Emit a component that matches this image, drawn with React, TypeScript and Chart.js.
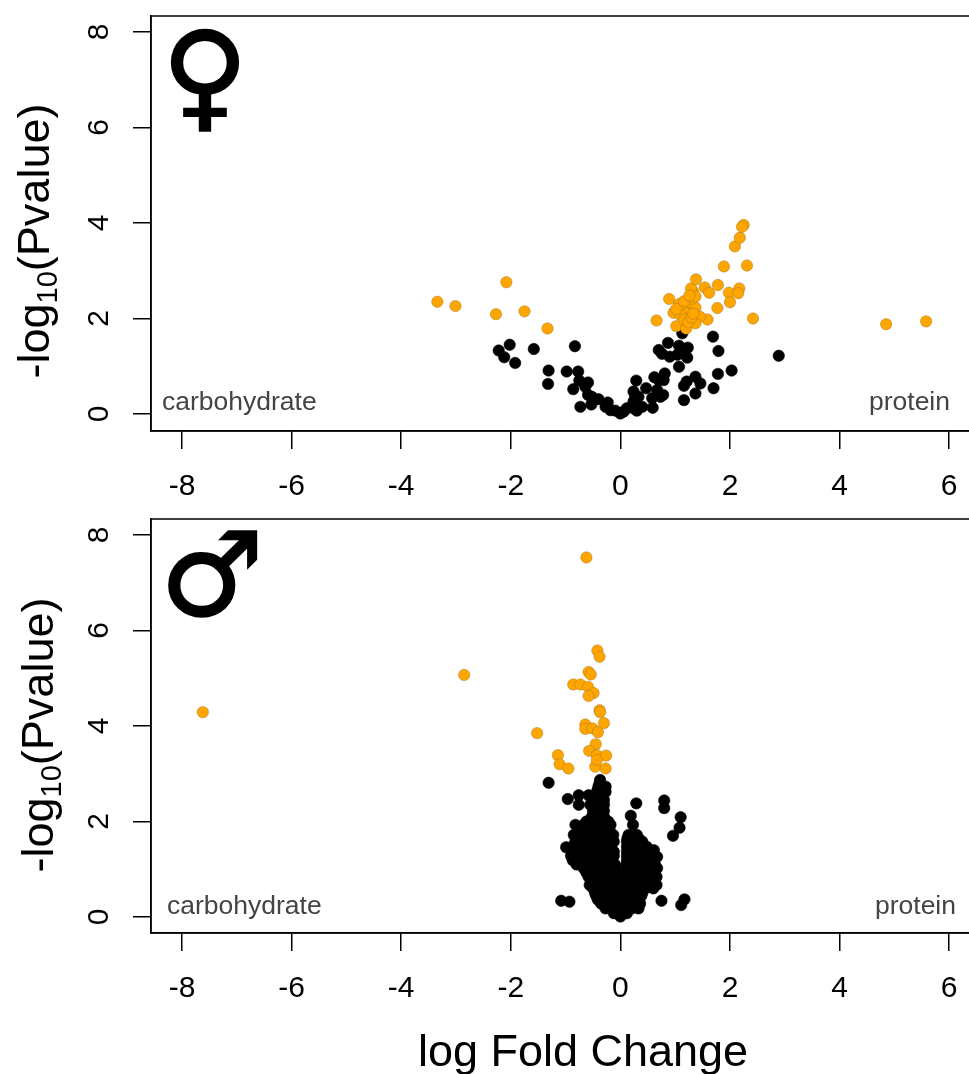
import React, { useEffect, useRef } from "react";
import { Chart, registerables } from "chart.js";

Chart.register(...registerables);

const xTicks = [-8, -6, -4, -2, 0, 2, 4, 6];
const yTicks = [0, 2, 4, 6, 8];
const FONT = '"Liberation Sans", Arial, sans-serif';

type P = [number, number];

const femaleSig: P[] = [
  [-3.34, 2.35], [-3.01, 2.26], [-2.08, 2.76], [-2.27, 2.09], [-1.75, 2.15], [-1.33, 1.79],
  [0.66, 1.96], [0.89, 2.41], [1.02, 1.84], [1.2, 1.79], [1.07, 2.3], [0.97, 2.12], [1.13, 2.18],
  [1.19, 2.25], [1.28, 2.32], [1.23, 2.11], [1.1, 2.07], [1.37, 2.23], [1.31, 2.42], [1.33, 2.56],
  [1.29, 2.63], [1.38, 2.82], [1.37, 2.46], [1.54, 2.65], [1.62, 2.54], [1.78, 2.7], [1.89, 3.09],
  [2.09, 3.51], [2.18, 3.69], [2.25, 3.96], [2.22, 3.92], [2.31, 3.11], [1.98, 2.54], [2.17, 2.63],
  [2.15, 2.53], [2.0, 2.34], [1.77, 2.22], [2.42, 2.0], [1.59, 1.98], [1.45, 2.04], [1.37, 1.9],
  [1.16, 1.98], [1.24, 1.92], [1.3, 2.02], [1.02, 2.2], [1.16, 2.36], [1.26, 2.48], [1.33, 2.1],
  [4.85, 1.88], [5.58, 1.94],
];

const femaleNs: P[] = [
  [-2.22, 1.33], [-2.02, 1.45], [-2.12, 1.19], [-1.92, 1.07], [-1.58, 1.36], [-0.83, 1.42],
  [-1.31, 0.91], [-1.32, 0.63], [-0.98, 0.89], [-0.77, 0.89], [-0.86, 0.52], [-0.75, 0.7],
  [-0.59, 0.66], [-0.64, 0.57], [-0.59, 0.4], [-0.73, 0.15], [-0.53, 0.2], [-0.52, 0.36],
  [-0.4, 0.31], [-0.23, 0.24], [-0.27, 0.15], [-0.18, 0.08], [-0.09, 0.07], [0, 0.01], [0.06, 0.05],
  [0.12, 0.12], [0.24, 0.12], [0.3, 0.07], [0.4, 0.15], [0.24, 0.26], [0.27, 0.36], [0.24, 0.47],
  [0.29, 0.7], [0.47, 0.54], [0.33, 0.36], [0.59, 0.13], [0.58, 0.33], [0.62, 0.77], [0.78, 0.4],
  [0.73, 0.36], [0.67, 0.5], [0.79, 0.71], [0.81, 0.85], [0.7, 0.71], [1.16, 0.29], [1.37, 0.43],
  [1.7, 0.54], [1.16, 0.59], [1.21, 0.68], [1.37, 0.78], [1.46, 0.64], [1.78, 0.84], [2.03, 0.91],
  [2.89, 1.22], [1.79, 1.32], [1.69, 1.62], [1.13, 1.69], [0.87, 1.49], [0.7, 1.34], [0.76, 1.26],
  [0.9, 1.2], [1.07, 1.43], [1.23, 1.39], [1.22, 1.18], [1.07, 0.99], [1.04, 1.24], [1.1, 1.31],
];

const maleSig: P[] = [
  [-0.62, 7.53], [-0.42, 5.58], [-0.38, 5.45], [-0.58, 5.13], [-0.54, 5.08], [-0.86, 4.87],
  [-0.73, 4.87], [-0.59, 4.82], [-0.49, 4.69], [-0.58, 4.63], [-0.38, 4.33], [-0.37, 4.29],
  [-0.3, 4.06], [-0.64, 4.03], [-0.64, 3.94], [-0.51, 3.95], [-0.41, 3.87], [-1.52, 3.85],
  [-0.45, 3.62], [-0.57, 3.48], [-0.43, 3.39], [-0.26, 3.38], [-1.14, 3.39], [-1.11, 3.2],
  [-0.95, 3.11], [-0.46, 3.15], [-0.27, 3.11], [-0.43, 3.29], [-2.85, 5.07], [-7.62, 4.29],
];

const maleNs: P[] = [
  [-1.31, 2.81], [-0.96, 2.47], [-0.76, 2.55], [-0.76, 2.35], [-0.58, 2.55], [-0.38, 2.8],
  [-0.37, 2.87], [-0.27, 2.62], [0.29, 2.38], [0.8, 2.44], [0.8, 2.28], [1.1, 2.09], [1.08, 1.87],
  [0.96, 1.7], [0.19, 2.12], [0.23, 1.93], [-1.08, 0.34], [-0.93, 0.32], [0.75, 0.34], [1.17, 0.37],
  [1.11, 0.25], [0.61, 1.4], [0.67, 1.26], [0.51, 1.27], [-0.99, 1.46],
  [0, 0.01], [-0.12, 0.08], [0, 0.08], [0.12, 0.08],
  [-0.27, 0.18], [-0.15, 0.18], [-0.03, 0.18], [0.09, 0.18], [0.21, 0.18], [0.33, 0.18],
  [-0.41, 0.36], [-0.27, 0.36], [-0.15, 0.36], [-0.03, 0.36], [0.09, 0.36], [0.21, 0.36], [0.3, 0.36],
  [-0.46, 0.5], [-0.3, 0.5], [-0.15, 0.5], [-0.03, 0.5], [0.09, 0.5], [0.24, 0.5], [0.4, 0.5],
  [-0.56, 0.67], [-0.43, 0.67], [-0.27, 0.67], [-0.12, 0.67], [0.06, 0.67], [0.21, 0.67], [0.37, 0.67], [0.52, 0.67], [0.66, 0.67],
  [-0.58, 0.84], [-0.46, 0.84], [-0.3, 0.84], [-0.15, 0.84], [-0.03, 0.84], [0.09, 0.84], [0.24, 0.84], [0.4, 0.84], [0.55, 0.84], [0.66, 0.84],
  [-0.67, 1.02], [-0.52, 1.02], [-0.37, 1.02], [-0.21, 1.02], [-0.09, 1.02], [0.12, 1.02], [0.27, 1.02], [0.43, 1.02], [0.58, 1.02], [0.67, 1.02],
  [-0.87, 1.19], [-0.73, 1.19], [-0.58, 1.19], [-0.43, 1.19], [-0.27, 1.19], [-0.15, 1.19], [0.12, 1.19], [0.27, 1.19], [0.43, 1.19],
  [-0.79, 1.37], [-0.67, 1.37], [-0.52, 1.37], [-0.37, 1.37], [-0.21, 1.37], [-0.12, 1.37], [0.12, 1.37], [0.27, 1.37], [0.4, 1.37],
  [-0.82, 1.58], [-0.7, 1.58], [-0.52, 1.58], [-0.37, 1.58], [-0.21, 1.58], [-0.12, 1.58], [0.12, 1.58], [0.24, 1.58], [0.4, 1.58],
  [-0.85, 1.72], [-0.67, 1.72], [-0.52, 1.72], [-0.37, 1.72], [-0.21, 1.72], [-0.13, 1.72], [0.15, 1.72], [0.3, 1.72],
  [-0.82, 1.93], [-0.67, 1.93], [-0.55, 1.93], [-0.4, 1.93], [-0.27, 1.93], [-0.18, 1.93],
  [-0.52, 2.1], [-0.4, 2.1], [-0.3, 2.1], [-0.55, 2.35], [-0.43, 2.35], [-0.3, 2.35],
  [-0.46, 2.55], [-0.335, 2.55], [-0.4, 2.73], [-0.27, 2.73],
  [-0.35, 0.28], [-0.21, 0.28], [-0.09, 0.28], [0.03, 0.28], [0.15, 0.28], [0.27, 0.28], [0.36, 0.28],
  [-0.44, 0.44], [-0.35, 0.44], [-0.22, 0.44], [-0.09, 0.44], [0.03, 0.44], [0.15, 0.44], [0.3, 0.44], [0.38, 0.44],
  [-0.5, 0.6], [-0.36, 0.6], [-0.2, 0.6], [-0.06, 0.6], [0.03, 0.6], [0.14, 0.6], [0.29, 0.6], [0.45, 0.6], [0.6, 0.6],
  [-0.52, 0.76], [-0.38, 0.76], [-0.22, 0.76], [-0.08, 0.76], [0.02, 0.76], [0.16, 0.76], [0.32, 0.76], [0.47, 0.76], [0.62, 0.76],
  [-0.62, 0.93], [-0.52, 0.93], [-0.38, 0.93], [-0.22, 0.93], [-0.09, 0.93], [0.1, 0.93], [0.18, 0.93], [0.32, 0.93], [0.48, 0.93], [0.62, 0.93],
  [-0.8, 1.1], [-0.65, 1.1], [-0.5, 1.1], [-0.35, 1.1], [-0.2, 1.1], [-0.1, 1.1], [0.11, 1.1], [0.2, 1.1], [0.35, 1.1], [0.5, 1.1], [0.63, 1.1],
  [-0.9, 1.28], [-0.78, 1.28], [-0.62, 1.28], [-0.47, 1.28], [-0.32, 1.28], [-0.2, 1.28], [-0.12, 1.28], [0.12, 1.28], [0.2, 1.28], [0.35, 1.28], [0.48, 1.28],
  [-0.88, 1.47], [-0.75, 1.47], [-0.6, 1.47], [-0.45, 1.47], [-0.3, 1.47], [-0.17, 1.47], [0.12, 1.47], [0.2, 1.47], [0.33, 1.47], [0.48, 1.47],
  [-0.75, 1.65], [-0.6, 1.65], [-0.45, 1.65], [-0.3, 1.65], [-0.17, 1.65], [0.13, 1.65], [0.2, 1.65], [0.33, 1.65],
  [-0.75, 1.83], [-0.6, 1.83], [-0.47, 1.83], [-0.33, 1.83], [-0.2, 1.83],
  [-0.62, 2.0], [-0.47, 2.0], [-0.33, 2.0], [-0.22, 2.0],
  [-0.5, 2.22], [-0.37, 2.22], [-0.3, 2.22], [-0.5, 2.45], [-0.36, 2.45], [-0.3, 2.45], [-0.42, 2.65], [-0.3, 2.65],
];

type Panel = {
  sig: P[];
  ns: P[];
  top: number;
  height: number;
  areaTop: number;
  areaBottom: number;
  yMin: number;
  yMax: number;
  symbol: string;
  symbolX: number;
  symbolY: number;
  symbolSize: number;
  carbX: number;
  protX: number;
  annY: number;
  titleX: number;
  titleCenterY: number;
  xTitle: string;
};

const panels: Panel[] = [
  {
    sig: femaleSig, ns: femaleNs, top: 0, height: 505, areaTop: 16, areaBottom: 431,
    yMin: -0.356, yMax: 8.335, symbol: "\u2640", symbolX: 205, symbolY: 116, symbolSize: 118,
    carbX: 162, protX: 950, annY: 403, titleX: 49, titleCenterY: 241, xTitle: "",
  },
  {
    sig: maleSig, ns: maleNs, top: 505, height: 569, areaTop: 14, areaBottom: 428,
    yMin: -0.335, yMax: 8.335, symbol: "\u2642", symbolX: 212, symbolY: 110, symbolSize: 116,
    carbX: 167, protX: 956, annY: 402, titleX: 53, titleCenterY: 230, xTitle: "log Fold Change",
  },
];

const toPoints = (rows: P[]) => rows.map(([x, y]) => ({ x, y }));

function PanelChart({ panel }: { panel: Panel }) {
  const ref = useRef<HTMLCanvasElement>(null);
  useEffect(() => {
    if (!ref.current) return;
    const overlay = {
      id: "overlay",
      afterDraw(chart: any) {
        const { ctx, chartArea: a } = chart;
        ctx.save();
        ctx.strokeStyle = "#000";
        ctx.lineWidth = 1.5;
        ctx.strokeRect(a.left, a.top, a.right - a.left, a.bottom - a.top);

        ctx.fillStyle = "#444";
        ctx.font = `26.5px ${FONT}`;
        ctx.textBaseline = "middle";
        ctx.textAlign = "left";
        ctx.fillText("carbohydrate", panel.carbX, panel.annY);
        ctx.textAlign = "right";
        ctx.fillText("protein", panel.protX, panel.annY);

        ctx.fillStyle = "#000";
        ctx.textAlign = "center";
        ctx.textBaseline = "alphabetic";
        ctx.font = `${panel.symbolSize}px "DejaVu Sans"`;
        ctx.lineWidth = 2;
        ctx.lineJoin = "miter";
        ctx.fillText(panel.symbol, panel.symbolX, panel.symbolY);
        ctx.strokeText(panel.symbol, panel.symbolX, panel.symbolY);

        if (panel.xTitle) {
          ctx.font = `45px ${FONT}`;
          ctx.fillText(panel.xTitle, 583, 1066 - panel.top);
        }

        ctx.translate(panel.titleX, panel.titleCenterY);
        ctx.rotate(-Math.PI / 2);
        ctx.textAlign = "left";
        const big = `45px ${FONT}`;
        const small = `29px ${FONT}`;
        ctx.font = big;
        const w1 = ctx.measureText("-log").width;
        const w3 = ctx.measureText("(Pvalue)").width;
        ctx.font = small;
        const w2 = ctx.measureText("10").width;
        let x = -(w1 + w2 + w3) / 2;
        ctx.font = big;
        ctx.fillText("-log", x, 0);
        x += w1;
        ctx.font = small;
        ctx.fillText("10", x, 8);
        x += w2;
        ctx.font = big;
        ctx.fillText("(Pvalue)", x, 0);
        ctx.restore();
      },
    };
    const chart = new Chart(ref.current, {
      type: "scatter",
      data: {
        datasets: [
          {
            label: "significant",
            data: toPoints(panel.sig),
            backgroundColor: "#FFA500",
            borderColor: "rgba(150,110,30,0.7)",
            borderWidth: 0.6,
            pointRadius: 5.7,
          },
          {
            label: "not significant",
            data: toPoints(panel.ns),
            backgroundColor: "#000",
            borderColor: "#000",
            borderWidth: 0.6,
            pointRadius: 5.7,
          },
        ],
      },
      options: {
        responsive: false,
        animation: false,
        layout: { padding: { top: panel.areaTop, left: 0, right: 0, bottom: 0 } },
        plugins: { legend: { display: false }, tooltip: { enabled: false } },
        scales: {
          x: {
            type: "linear",
            min: -8.566,
            max: 6.813,
            afterBuildTicks: (s: any) => { s.ticks = xTicks.map((value) => ({ value })); },
            afterFit: (s: any) => {
              s.height = panel.height - panel.areaBottom;
              s.paddingLeft = 0;
              s.paddingRight = 0;
            },
            grid: { drawOnChartArea: false, drawTicks: true, tickLength: 18, color: "#000", lineWidth: 1.5 },
            border: { display: true, color: "#000", width: 1.5 },
            ticks: { color: "#000", font: { family: FONT, size: 30 }, padding: 20, maxRotation: 0, autoSkip: false },
          },
          y: {
            type: "linear",
            min: panel.yMin,
            max: panel.yMax,
            afterBuildTicks: (s: any) => { s.ticks = yTicks.map((value) => ({ value })); },
            afterFit: (s: any) => {
              s.width = 151;
              s.paddingTop = 0;
              s.paddingBottom = 0;
            },
            grid: { drawOnChartArea: false, drawTicks: true, tickLength: 18, color: "#000", lineWidth: 1.5 },
            border: { display: true, color: "#000", width: 1.5 },
            ticks: { color: "#000", font: { family: FONT, size: 30 }, padding: 25, minRotation: 90, maxRotation: 90, crossAlign: "center", autoSkip: false },
          },
        },
      },
      plugins: [overlay],
    } as any);
    return () => chart.destroy();
  }, [panel]);
  return (
    <canvas
      ref={ref}
      width={1000}
      height={panel.height}
      style={{ position: "absolute", left: 0, top: panel.top, display: "block" }}
    />
  );
}

export default function App() {
  return (
    <div style={{ position: "absolute", left: 0, top: 0, width: 969, height: 1074, overflow: "hidden", background: "#fff" }}>
      {panels.map((p) => (
        <PanelChart key={p.top} panel={p} />
      ))}
    </div>
  );
}
